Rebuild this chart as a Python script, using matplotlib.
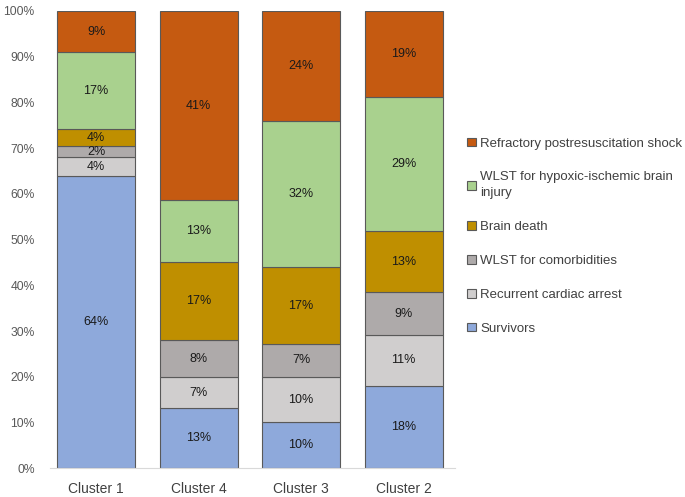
import matplotlib
matplotlib.use("Agg")
from matplotlib import pyplot as plt
import numpy as np

plt.rcParams['font.family'] = ['Liberation Sans', 'DejaVu Sans']

clusters = ['Cluster 1', 'Cluster 4', 'Cluster 3', 'Cluster 2']

# bottom to top
categories = ['Survivors',
              'Recurrent cardiac arrest',
              'WLST for comorbidities',
              'Brain death',
              'WLST for hypoxic-ischemic brain\ninjury',
              'Refractory postresuscitation shock']

survivors = [63.9, 13.2, 10.0, 18.0]
recurrent = [4.1, 6.7, 10.0, 11.1]
comorbid = [2.4, 8.1, 7.1, 9.4]
brain_death = [3.7, 17.2, 16.9, 13.3]
wlst_hypoxic = [16.9, 13.4, 31.9, 29.4]
refractory = [9.0, 41.4, 24.1, 18.8]

colors = ['#8EA9DB', '#D0CECE', '#AEAAAA', '#BF8F00', '#A9D18E', '#C55A11']

series = [survivors, recurrent, comorbid, brain_death, wlst_hypoxic, refractory]

fig = plt.figure(figsize=(6.85, 4.97), dpi=100)
ax = fig.add_axes([0.073, 0.058, 0.591, 0.92])

x = np.arange(len(clusters))
bottom = np.zeros(len(clusters))
handles = []
for vals, col, lab in zip(series, colors, categories):
    vals = np.array(vals)
    bars = ax.bar(x, vals, width=0.76, bottom=bottom, color=col,
                  edgecolor='#595959', linewidth=0.8, label=lab)
    handles.append(bars)
    for xi, b, v in zip(x, bottom, vals):
        ax.text(xi, b + v / 2, '{:.0f}%'.format(v), ha='center', va='center',
                fontsize=9, color='#1a1a1a')
    bottom += vals

ax.set_xlim(-0.45, 3.5)
ax.set_ylim(0, 100)
ax.set_yticks(np.arange(0, 101, 10))
ax.set_yticklabels(['{}%'.format(t) for t in range(0, 101, 10)])
ax.set_xticks(x)
ax.set_xticklabels(clusters)
ax.tick_params(axis='y', length=0, labelsize=8.7, labelcolor='#595959', pad=11)
ax.tick_params(axis='x', length=0, labelsize=10, labelcolor='#404040', pad=10)
for s in ['top', 'right', 'left']:
    ax.spines[s].set_visible(False)
ax.spines['bottom'].set_color('#D9D9D9')

leg = fig.legend(handles[::-1], categories[::-1], loc='upper left',
                 bbox_to_anchor=(0.665, 0.747), frameon=False, fontsize=9.5,
                 handlelength=0.65, handleheight=0.65, handletextpad=0.3,
                 labelspacing=1.65, labelcolor='#404040')
for t in leg.get_texts():
    t.set_linespacing(1.45)

fig.savefig('out.png', dpi=100)
